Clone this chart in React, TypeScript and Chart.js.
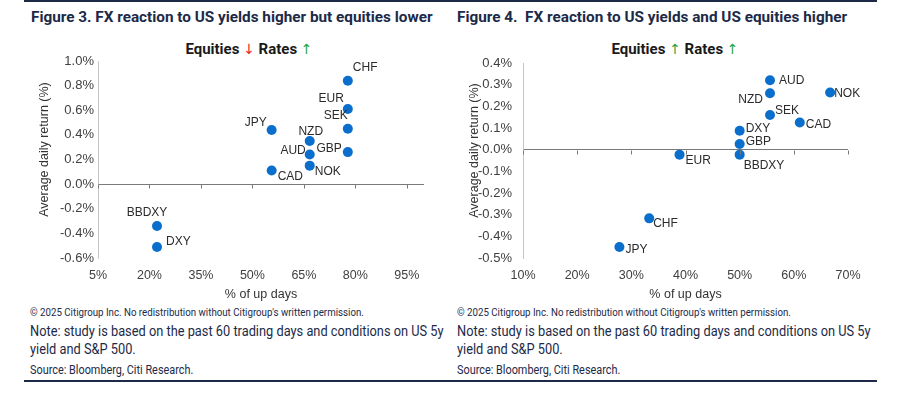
import React, { useEffect, useRef } from 'react';
import { Chart, registerables } from 'chart.js';

Chart.register(...registerables);

// ---------- Data ----------
const LEFT_CURRENCIES = ['CHF', 'EUR', 'SEK', 'GBP', 'JPY', 'NZD', 'AUD', 'NOK', 'CAD', 'BBDXY', 'DXY'];
const LEFT_UP_DAYS = [77.8, 77.8, 77.8, 77.8, 55.6, 66.7, 66.7, 66.7, 55.6, 22.2, 22.2];
const LEFT_RETURNS = [0.84, 0.61, 0.45, 0.26, 0.44, 0.35, 0.24, 0.15, 0.11, -0.34, -0.51];
const LEFT_X_TICKS = [5, 20, 35, 50, 65, 80, 95];
const LEFT_Y_TICKS = [-0.6, -0.4, -0.2, 0.0, 0.2, 0.4, 0.6, 0.8, 1.0];

const RIGHT_CURRENCIES = ['AUD', 'NZD', 'NOK', 'SEK', 'CAD', 'DXY', 'GBP', 'BBDXY', 'EUR', 'CHF', 'JPY'];
const RIGHT_UP_DAYS = [55.6, 55.6, 66.7, 55.6, 61.1, 50.0, 50.0, 50.0, 38.9, 33.3, 27.8];
const RIGHT_RETURNS = [0.32, 0.26, 0.264, 0.16, 0.125, 0.087, 0.026, -0.023, -0.023, -0.317, -0.449];
const RIGHT_X_TICKS = [10, 20, 30, 40, 50, 60, 70];
const RIGHT_Y_TICKS = [-0.5, -0.4, -0.3, -0.2, -0.1, 0.0, 0.1, 0.2, 0.3, 0.4];

const X_TITLE = '% of up days';
const Y_TITLE = 'Average daily return (%)';

// ---------- Label placement (style, not data) ----------
type Place = [number, number, CanvasTextAlign];
const LEFT_PLACE: Place[] = [
  [5, -13, 'left'], [-4, -10, 'right'], [0, -13, 'right'], [-6, -3, 'right'],
  [-5, -7, 'right'], [1, -9, 'center'], [-4, -4, 'right'], [5, 6, 'left'],
  [6, 6, 'left'], [-10, -13, 'center'], [9, -5, 'left'],
];
const RIGHT_PLACE: Place[] = [
  [9, 0, 'left'], [-7, 6, 'right'], [4, 1, 'left'], [5, -4, 'left'],
  [6, 2, 'left'], [6, -2, 'left'], [6, -2, 'left'], [4, 11, 'left'],
  [6, 6, 'left'], [4, 5, 'left'], [6, 3, 'left'],
];

const CHART_FONT = "'Liberation Sans', Arial, sans-serif";
const TEXT_FONT = "'Roboto', 'Liberation Sans', sans-serif";
const DOT = '#0a6fcc';
const NAVY = '#1c2a48';
const TICK_COLOR = '#404040';

const overlayPlugin = {
  id: 'overlay',
  afterDatasetsDraw(chart: any, _args: any, opts: any) {
    const { ctx, chartArea } = chart;
    const x = chart.scales.x;
    const y = chart.scales.y;
    const y0 = Math.round(y.getPixelForValue(0)) + 0.5;
    ctx.save();
    // tick marks hanging from the zero line
    ctx.strokeStyle = '#7a7a7a';
    ctx.lineWidth = 1;
    x.ticks.forEach((t: any) => {
      const px = Math.round(x.getPixelForValue(t.value)) + 0.5;
      ctx.beginPath();
      ctx.moveTo(px, y0);
      ctx.lineTo(px, y0 + 4);
      ctx.stroke();
    });
    // point labels
    const meta = chart.getDatasetMeta(0);
    ctx.font = `12px ${CHART_FONT}`;
    ctx.fillStyle = '#2b2b2b';
    ctx.textBaseline = 'middle';
    meta.data.forEach((pt: any, i: number) => {
      const [dx, dy, align] = opts.place[i];
      ctx.textAlign = align;
      ctx.fillText(opts.labels[i], pt.x + dx, pt.y + dy);
    });
    // y-axis title
    ctx.font = `12.5px ${CHART_FONT}`;
    ctx.fillStyle = '#333';
    ctx.textAlign = 'center';
    ctx.translate(chartArea.left - opts.yTitleOffset, (chartArea.top + chartArea.bottom) / 2 - 10);
    ctx.rotate(-Math.PI / 2);
    ctx.fillText(Y_TITLE, 0, 0);
    ctx.restore();
  },
};

type PanelProps = {
  labels: string[];
  xs: number[];
  ys: number[];
  xTicks: number[];
  yTicks: number[];
  xMin: number;
  xMax: number;
  place: Place[];
  padLeft: number;
  padTop: number;
  padRight: number;
  yAxisWidth: number;
  yTickPad: number;
  yTitleOffset: number;
  style: React.CSSProperties;
};

function ScatterPanel(p: PanelProps) {
  const ref = useRef<HTMLCanvasElement>(null);
  useEffect(() => {
    if (!ref.current) return;
    const chart = new Chart(ref.current, {
      type: 'scatter',
      data: {
        datasets: [
          {
            data: p.xs.map((v, i) => ({ x: v, y: p.ys[i] })),
            backgroundColor: DOT,
            borderWidth: 0,
            pointRadius: 5,
          },
        ],
      },
      options: {
        animation: false,
        responsive: false,
        maintainAspectRatio: false,
        layout: { padding: { left: p.padLeft, top: p.padTop, right: p.padRight, bottom: 0 } },
        plugins: {
          legend: { display: false },
          tooltip: { enabled: false },
          overlay: { labels: p.labels, place: p.place, yTitleOffset: p.yTitleOffset },
        } as any,
        scales: {
          x: {
            type: 'linear',
            min: p.xMin,
            max: p.xMax,
            afterBuildTicks: (s: any) => {
              s.ticks = p.xTicks.map((v) => ({ value: v }));
            },
            afterFit: (s: any) => {
              s.height = 47;
            },
            grid: { display: false, drawTicks: false },
            border: { display: false },
            ticks: {
              padding: 10,
              color: TICK_COLOR,
              font: { family: CHART_FONT, size: 12.5 },
              callback: (v: any) => `${v}%`,
            },
            title: {
              display: true,
              text: X_TITLE,
              color: '#333',
              font: { family: CHART_FONT, size: 12.5 },
              padding: { top: 0, bottom: 3 },
            },
          },
          y: {
            type: 'linear',
            min: p.yTicks[0],
            max: p.yTicks[p.yTicks.length - 1],
            afterBuildTicks: (s: any) => {
              s.ticks = p.yTicks.map((v) => ({ value: v }));
            },
            afterFit: (s: any) => {
              s.width = p.yAxisWidth;
            },
            grid: {
              drawTicks: false,
              color: (c: any) => (c.tick && Math.abs(c.tick.value) < 1e-9 ? '#7a7a7a' : 'rgba(0,0,0,0)'),
            },
            border: { display: true, color: '#c4c4c4', width: 1 },
            ticks: {
              padding: p.yTickPad,
              color: TICK_COLOR,
              font: { family: CHART_FONT, size: 13 },
              callback: (v: any) => `${Number(v).toFixed(1)}%`,
            },
            title: { display: false },
          },
        },
      },
      plugins: [overlayPlugin],
    });
    return () => chart.destroy();
  }, []);
  return (
    <canvas
      ref={ref}
      width={p.style.width as number}
      height={p.style.height as number}
      style={{ position: 'absolute', ...p.style }}
    />
  );
}

const arrowStyle: React.CSSProperties = { fontFamily: "'DejaVu Sans', sans-serif", fontWeight: 400, fontSize: 14 };
const up = <span style={{ ...arrowStyle, color: '#1fa84a' }}>↑</span>;
const down = <span style={{ ...arrowStyle, color: '#e8232a' }}>↓</span>;

function Line({ left, top, size, lh, k, children, bold }: any) {
  return (
    <div
      style={{
        position: 'absolute',
        left,
        top,
        fontSize: size,
        lineHeight: lh,
        color: NAVY,
        fontFamily: TEXT_FONT,
        fontWeight: bold ? 700 : 400,
        whiteSpace: 'nowrap',
        transform: `scaleX(${k})`,
        transformOrigin: 'left center',
      }}
    >
      {children}
    </div>
  );
}

function Footer({ left }: { left: number }) {
  return (
    <>
      <Line left={left} top={306} size={10.5} lh="14px" k={0.925}>
        © 2025 Citigroup Inc. No redistribution without Citigroup's written permission.
      </Line>
      <Line left={left} top={322} size={14} lh="18px" k={0.915}>
        Note: study is based on the past 60 trading days and conditions on US 5y
        <br />
        yield and S&amp;P 500.
      </Line>
      <Line left={left} top={362} size={12.5} lh="16px" k={0.87}>
        Source: Bloomberg, Citi Research.
      </Line>
    </>
  );
}

export default function App() {
  return (
    <div style={{ position: 'fixed', left: 0, top: 0, width: 906, height: 394, background: '#fff', overflow: 'hidden' }}>
      <div style={{ position: 'absolute', left: 24, top: 0, width: 853, height: 2, background: NAVY }} />
      <div style={{ position: 'absolute', left: 24, top: 380, width: 853, height: 2, background: NAVY }} />

      <Line left={31} top={8} size={15.3} lh="18px" k={1} bold>
        Figure 3. FX reaction to US yields higher but equities lower
      </Line>
      <Line left={457} top={8} size={15.3} lh="18px" k={1} bold>
        Figure 4.&nbsp; FX reaction to US yields and US equities higher
      </Line>

      <div style={{ position: 'absolute', left: 149, width: 200, top: 40, textAlign: 'center', fontSize: 15, lineHeight: '18px', fontWeight: 700, color: '#1a1a1a', fontFamily: TEXT_FONT }}>
        Equities {down} Rates {up}
      </div>
      <div style={{ position: 'absolute', left: 575, width: 200, top: 40, textAlign: 'center', fontSize: 15, lineHeight: '18px', fontWeight: 700, color: '#1a1a1a', fontFamily: TEXT_FONT }}>
        Equities {up} Rates {up}
      </div>

      <ScatterPanel
        labels={LEFT_CURRENCIES}
        xs={LEFT_UP_DAYS}
        ys={LEFT_RETURNS}
        xTicks={LEFT_X_TICKS}
        yTicks={LEFT_Y_TICKS}
        xMin={5}
        xMax={100}
        place={LEFT_PLACE}
        padLeft={10}
        padTop={21}
        padRight={26}
        yAxisWidth={64}
        yTickPad={4}
        yTitleOffset={53}
        style={{ left: 24, top: 40, width: 426, height: 265 }}
      />
      <ScatterPanel
        labels={RIGHT_CURRENCIES}
        xs={RIGHT_UP_DAYS}
        ys={RIGHT_RETURNS}
        xTicks={RIGHT_X_TICKS}
        yTicks={RIGHT_Y_TICKS}
        xMin={10}
        xMax={70}
        place={RIGHT_PLACE}
        padLeft={14}
        padTop={23}
        padRight={29}
        yAxisWidth={59}
        yTickPad={11}
        yTitleOffset={48}
        style={{ left: 450, top: 40, width: 427, height: 265 }}
      />

      <Footer left={30} />
      <Footer left={457} />
    </div>
  );
}
